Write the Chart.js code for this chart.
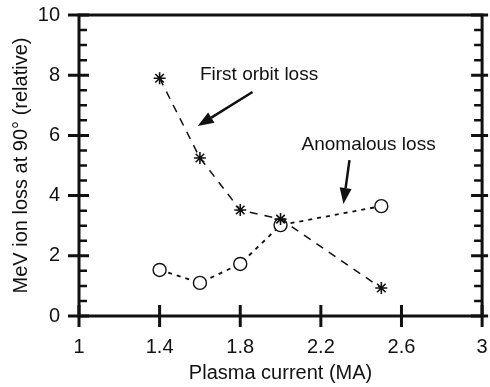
<!DOCTYPE html>
<html>
<head>
<meta charset="utf-8">
<script src="https://cdn.jsdelivr.net/npm/chart.js@4"></script>
<style>
  html, body { margin: 0; padding: 0; background: #fff; }
  #wrap { width: 490px; height: 387px; }
</style>
</head>
<body>
<div id="wrap"><canvas id="chart" width="490" height="387"></canvas></div>
<script>
// Data
const currents = [1.4, 1.6, 1.8, 2.0, 2.5];
const firstOrbitLoss = [7.9, 5.25, 3.52, 3.22, 0.93];
const anomalousLoss = [1.53, 1.1, 1.73, 3.02, 3.65];
const xTicks = [1, 1.4, 1.8, 2.2, 2.6, 3];
const yTicks = [0, 2, 4, 6, 8, 10];

const FONT = "'Liberation Sans', Arial, sans-serif";

// Labels and arrows, anchored in data units
const notes = [
    { text: 'First orbit loss', x: 1.6, y: 7.84, from: [1.861, 7.44], to: [1.589, 6.31] },
    { text: 'Anomalous loss', x: 2.104, y: 5.51, from: [2.342, 5.18], to: [2.312, 3.72] }
];

function points(xs, ys) {
    return xs.map((x, i) => ({ x: x, y: ys[i] }));
}

// Frame and tick marks like the original plot
const framePlugin = {
    id: 'frame',
    afterDatasetsDraw(chart) {
        const ctx = chart.ctx;
        const a = chart.chartArea;
        const xs = chart.scales.x, ys = chart.scales.y;
        ctx.save();
        ctx.strokeStyle = '#111';
        ctx.lineWidth = 3;
        ctx.lineCap = 'butt';
        ctx.strokeRect(a.left, a.top, a.right - a.left, a.bottom - a.top);

        ctx.beginPath();
        // x major ticks cross the bottom axis
        xTicks.forEach(v => {
            const px = xs.getPixelForValue(v);
            ctx.moveTo(px, a.bottom - 11);
            ctx.lineTo(px, a.bottom + 11);
        });
        // y major ticks
        yTicks.forEach(v => {
            const py = ys.getPixelForValue(v);
            ctx.moveTo(a.left - 11, py);
            ctx.lineTo(a.left + 10, py);
            ctx.moveTo(a.right - 11, py);
            ctx.lineTo(a.right + 6, py);
        });
        ctx.stroke();

        // y minor ticks, inside
        ctx.lineWidth = 2.5;
        ctx.beginPath();
        for (let v = 0.5; v < 10; v += 0.5) {
            if (v % 2 === 0) continue;
            const py = ys.getPixelForValue(v);
            ctx.moveTo(a.left, py);
            ctx.lineTo(a.left + 8, py);
            ctx.moveTo(a.right, py);
            ctx.lineTo(a.right - 8, py);
        }
        ctx.stroke();
        ctx.restore();
    }
};

const notesPlugin = {
    id: 'notes',
    afterDatasetsDraw(chart) {
        const ctx = chart.ctx;
        const xs = chart.scales.x, ys = chart.scales.y;
        ctx.save();
        ctx.fillStyle = '#111';
        ctx.strokeStyle = '#111';
        ctx.font = '19px ' + FONT;
        ctx.textBaseline = 'alphabetic';
        notes.forEach(n => {
            ctx.fillText(n.text, xs.getPixelForValue(n.x), ys.getPixelForValue(n.y));

            const x1 = xs.getPixelForValue(n.from[0]), y1 = ys.getPixelForValue(n.from[1]);
            const x2 = xs.getPixelForValue(n.to[0]), y2 = ys.getPixelForValue(n.to[1]);
            const ang = Math.atan2(y2 - y1, x2 - x1);
            const headLen = 16, headW = 6;
            const bx = x2 - headLen * Math.cos(ang), by = y2 - headLen * Math.sin(ang);

            ctx.lineWidth = 2.5;
            ctx.beginPath();
            ctx.moveTo(x1, y1);
            ctx.lineTo(bx, by);
            ctx.stroke();

            ctx.beginPath();
            ctx.moveTo(x2, y2);
            ctx.lineTo(bx + headW * Math.sin(ang), by - headW * Math.cos(ang));
            ctx.lineTo(bx - headW * Math.sin(ang), by + headW * Math.cos(ang));
            ctx.closePath();
            ctx.fill();
        });
        ctx.restore();
    }
};

new Chart(document.getElementById('chart').getContext('2d'), {
    type: 'scatter',
    data: {
        datasets: [{
            label: 'First orbit loss',
            data: points(currents, firstOrbitLoss),
            showLine: true,
            borderColor: '#111',
            borderWidth: 1.5,
            borderDash: [8, 7],
            pointStyle: 'star',
            pointRadius: 6,
            pointBorderWidth: 1.6,
            pointBorderColor: '#111',
            pointBackgroundColor: '#111'
        }, {
            label: 'Anomalous loss',
            data: points(currents, anomalousLoss),
            showLine: true,
            borderColor: '#111',
            borderWidth: 1.8,
            borderDash: [4, 5],
            pointStyle: 'circle',
            pointRadius: 6.5,
            pointBorderWidth: 1.4,
            pointBorderColor: '#111',
            pointBackgroundColor: '#fff'
        }]
    },
    options: {
        responsive: false,
        animation: false,
        layout: { padding: { top: 15, right: 7, left: 0, bottom: 0 } },
        plugins: {
            legend: { display: false },
            tooltip: { enabled: false }
        },
        scales: {
            x: {
                type: 'linear',
                min: 1,
                max: 3,
                afterBuildTicks(scale) {
                    scale.ticks = xTicks.map(v => ({ value: v }));
                },
                afterFit(scale) {
                    scale.height = 71;
                    scale.paddingLeft = 0;
                    scale.paddingRight = 0;
                },
                grid: { display: false, drawTicks: false },
                border: { display: false },
                ticks: {
                    color: '#111',
                    padding: 19,
                    font: { family: FONT, size: 20 },
                    callback: v => String(v)
                },
                title: {
                    display: true,
                    text: 'Plasma current (MA)',
                    color: '#111',
                    font: { family: FONT, size: 20 },
                    padding: { top: 0, bottom: 2 }
                }
            },
            y: {
                min: 0,
                max: 10,
                afterBuildTicks(scale) {
                    scale.ticks = yTicks.map(v => ({ value: v }));
                },
                afterFit(scale) {
                    scale.width = 79;
                    scale.paddingTop = 0;
                    scale.paddingBottom = 0;
                },
                grid: { display: false, drawTicks: false },
                border: { display: false },
                ticks: {
                    color: '#111',
                    padding: 19,
                    font: { family: FONT, size: 20 }
                },
                title: {
                    display: true,
                    text: 'MeV ion loss at 90° (relative)',
                    color: '#111',
                    font: { family: FONT, size: 20 },
                    padding: { top: 9, bottom: 0 }
                }
            }
        }
    },
    plugins: [framePlugin, notesPlugin]
});
</script>
</body>
</html>
